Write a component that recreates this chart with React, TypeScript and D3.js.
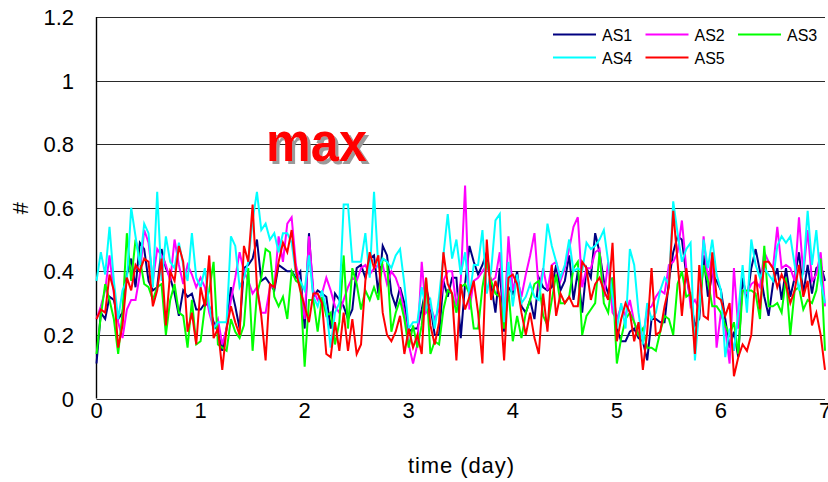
import React from "react";
import * as d3 from "d3";

// Hourly samples over one week (index = hour, 0..168)
const AS1 = [
  0.11, 0.27, 0.25, 0.32, 0.31, 0.25, 0.27, 0.39, 0.44, 0.35, 0.49, 0.47, 0.37, 0.34, 0.35, 0.47, 0.41, 0.38, 0.33, 0.26, 0.34, 0.32, 0.33, 0.28, 0.28, 0.30, 0.29, 0.24, 0.21, 0.15, 0.22, 0.35, 0.29, 0.22,
  0.41, 0.42, 0.44, 0.50, 0.37, 0.38, 0.36, 0.34, 0.42, 0.41, 0.40, 0.40, 0.38, 0.40, 0.22, 0.52, 0.32, 0.34, 0.33, 0.32, 0.22, 0.33, 0.31, 0.29, 0.25, 0.28, 0.41, 0.42, 0.38, 0.44, 0.45, 0.33, 0.48, 0.45,
  0.33, 0.29, 0.35, 0.30, 0.21, 0.22, 0.22, 0.28, 0.35, 0.29, 0.20, 0.20, 0.37, 0.32, 0.38, 0.38, 0.19, 0.36, 0.48, 0.43, 0.39, 0.42, 0.46, 0.36, 0.27, 0.41, 0.21, 0.35, 0.33, 0.40, 0.29, 0.27, 0.31,
  0.25, 0.38, 0.35, 0.34, 0.35, 0.42, 0.34, 0.37, 0.45, 0.31, 0.40, 0.27, 0.41, 0.38, 0.52, 0.46, 0.37, 0.33, 0.38, 0.22, 0.18, 0.18, 0.21, 0.22, 0.19, 0.18, 0.12, 0.25, 0.25, 0.24, 0.24, 0.37, 0.46, 0.51,
  0.50, 0.39, 0.31, 0.23, 0.25, 0.45, 0.32, 0.39, 0.37, 0.34, 0.25, 0.16, 0.21, 0.13, 0.38, 0.31, 0.41, 0.47, 0.40, 0.32, 0.26, 0.36, 0.41, 0.31, 0.41, 0.32, 0.38, 0.46, 0.33, 0.42, 0.33, 0.41, 0.42, 0.37,
];

const AS2 = [
  0.25, 0.29, 0.34, 0.45, 0.33, 0.24, 0.19, 0.28, 0.31, 0.31, 0.39, 0.53, 0.49, 0.37, 0.47, 0.45, 0.42, 0.37, 0.50, 0.42, 0.36, 0.42, 0.39, 0.35, 0.38, 0.35, 0.27, 0.22, 0.25, 0.17, 0.22, 0.31, 0.38, 0.46,
  0.40, 0.37, 0.33, 0.35, 0.27, 0.27, 0.35, 0.35, 0.51, 0.43, 0.55, 0.57, 0.42, 0.36, 0.25, 0.51, 0.34, 0.31, 0.33, 0.38, 0.34, 0.29, 0.27, 0.31, 0.35, 0.38, 0.37, 0.41, 0.42, 0.39, 0.41, 0.42, 0.42, 0.36,
  0.40, 0.38, 0.34, 0.27, 0.17, 0.11, 0.17, 0.43, 0.27, 0.29, 0.25, 0.28, 0.37, 0.40, 0.40, 0.29, 0.37, 0.67, 0.28, 0.37, 0.38, 0.40, 0.42, 0.37, 0.38, 0.46, 0.24, 0.51, 0.34, 0.38, 0.32, 0.39, 0.45,
  0.52, 0.34, 0.41, 0.34, 0.42, 0.43, 0.37, 0.41, 0.47, 0.54, 0.57, 0.35, 0.41, 0.41, 0.46, 0.47, 0.32, 0.43, 0.27, 0.25, 0.29, 0.26, 0.31, 0.24, 0.20, 0.19, 0.28, 0.29, 0.32, 0.34, 0.33, 0.42, 0.43, 0.46,
  0.56, 0.41, 0.29, 0.31, 0.28, 0.51, 0.37, 0.45, 0.16, 0.27, 0.22, 0.11, 0.41, 0.22, 0.34, 0.33, 0.36, 0.37, 0.35, 0.46, 0.43, 0.41, 0.54, 0.41, 0.42, 0.41, 0.37, 0.57, 0.39, 0.53, 0.37, 0.39, 0.46, 0.29,
];

const AS3 = [
  0.14, 0.26, 0.36, 0.31, 0.25, 0.14, 0.27, 0.52, 0.37, 0.50, 0.44, 0.36, 0.35, 0.31, 0.35, 0.36, 0.20, 0.31, 0.36, 0.27, 0.26, 0.16, 0.31, 0.17, 0.18, 0.29, 0.34, 0.43, 0.17, 0.16, 0.15, 0.25, 0.21, 0.19,
  0.23, 0.41, 0.15, 0.33, 0.38, 0.47, 0.46, 0.32, 0.29, 0.32, 0.25, 0.40, 0.37, 0.36, 0.10, 0.31, 0.31, 0.21, 0.32, 0.26, 0.27, 0.17, 0.24, 0.45, 0.22, 0.41, 0.36, 0.28, 0.34, 0.31, 0.35, 0.31, 0.44, 0.43,
  0.21, 0.27, 0.31, 0.25, 0.16, 0.23, 0.16, 0.23, 0.38, 0.14, 0.18, 0.17, 0.28, 0.34, 0.33, 0.27, 0.35, 0.36, 0.33, 0.22, 0.22, 0.35, 0.43, 0.37, 0.33, 0.32, 0.22, 0.34, 0.18, 0.26, 0.19, 0.27, 0.31,
  0.36, 0.37, 0.26, 0.23, 0.31, 0.39, 0.30, 0.30, 0.32, 0.41, 0.43, 0.20, 0.26, 0.28, 0.30, 0.46, 0.30, 0.27, 0.38, 0.11, 0.19, 0.25, 0.27, 0.24, 0.20, 0.22, 0.16, 0.16, 0.15, 0.21, 0.26, 0.25, 0.20, 0.36,
  0.40, 0.32, 0.33, 0.17, 0.28, 0.42, 0.37, 0.29, 0.29, 0.27, 0.23, 0.20, 0.24, 0.14, 0.34, 0.34, 0.34, 0.33, 0.25, 0.48, 0.29, 0.29, 0.30, 0.27, 0.38, 0.20, 0.34, 0.35, 0.28, 0.31, 0.30, 0.34, 0.44, 0.15,
];

const AS4 = [
  0.37, 0.46, 0.39, 0.54, 0.37, 0.25, 0.34, 0.37, 0.60, 0.51, 0.42, 0.55, 0.52, 0.35, 0.65, 0.37, 0.51, 0.43, 0.41, 0.49, 0.42, 0.37, 0.52, 0.38, 0.35, 0.41, 0.29, 0.22, 0.24, 0.24, 0.24, 0.51, 0.48, 0.35,
  0.38, 0.43, 0.56, 0.65, 0.53, 0.55, 0.50, 0.52, 0.46, 0.52, 0.52, 0.49, 0.39, 0.37, 0.34, 0.45, 0.32, 0.29, 0.34, 0.28, 0.16, 0.27, 0.30, 0.61, 0.61, 0.43, 0.43, 0.43, 0.52, 0.38, 0.65, 0.41, 0.44, 0.43,
  0.41, 0.45, 0.47, 0.36, 0.22, 0.24, 0.24, 0.35, 0.28, 0.31, 0.22, 0.32, 0.45, 0.58, 0.44, 0.50, 0.39, 0.46, 0.32, 0.42, 0.42, 0.53, 0.33, 0.40, 0.56, 0.58, 0.24, 0.43, 0.29, 0.39, 0.30, 0.32, 0.36,
  0.32, 0.31, 0.40, 0.55, 0.48, 0.43, 0.38, 0.42, 0.50, 0.40, 0.41, 0.40, 0.49, 0.47, 0.48, 0.50, 0.53, 0.43, 0.32, 0.22, 0.30, 0.22, 0.47, 0.42, 0.27, 0.17, 0.30, 0.25, 0.27, 0.34, 0.38, 0.36, 0.62, 0.52,
  0.43, 0.47, 0.49, 0.12, 0.28, 0.50, 0.41, 0.50, 0.39, 0.34, 0.13, 0.22, 0.15, 0.27, 0.42, 0.27, 0.50, 0.42, 0.38, 0.41, 0.39, 0.37, 0.48, 0.51, 0.49, 0.51, 0.42, 0.34, 0.40, 0.59, 0.42, 0.53, 0.37, 0.30,
];

const AS5 = [
  0.25, 0.28, 0.27, 0.39, 0.34, 0.16, 0.23, 0.38, 0.34, 0.42, 0.40, 0.44, 0.43, 0.29, 0.34, 0.44, 0.23, 0.40, 0.37, 0.48, 0.43, 0.21, 0.27, 0.17, 0.35, 0.29, 0.45, 0.19, 0.22, 0.09, 0.22, 0.29, 0.24, 0.20,
  0.48, 0.43, 0.61, 0.35, 0.26, 0.12, 0.36, 0.35, 0.43, 0.49, 0.46, 0.53, 0.40, 0.34, 0.29, 0.24, 0.33, 0.33, 0.30, 0.14, 0.13, 0.24, 0.15, 0.27, 0.15, 0.25, 0.14, 0.17, 0.37, 0.46, 0.41, 0.45, 0.27, 0.20,
  0.18, 0.21, 0.26, 0.14, 0.22, 0.16, 0.20, 0.14, 0.38, 0.23, 0.17, 0.24, 0.46, 0.36, 0.33, 0.12, 0.36, 0.28, 0.32, 0.37, 0.27, 0.11, 0.50, 0.31, 0.37, 0.32, 0.12, 0.38, 0.39, 0.36, 0.27, 0.20, 0.27,
  0.19, 0.14, 0.33, 0.21, 0.42, 0.26, 0.33, 0.30, 0.32, 0.29, 0.29, 0.43, 0.41, 0.31, 0.36, 0.38, 0.34, 0.31, 0.49, 0.18, 0.25, 0.30, 0.27, 0.18, 0.24, 0.09, 0.21, 0.41, 0.20, 0.21, 0.29, 0.35, 0.59, 0.43,
  0.26, 0.41, 0.32, 0.14, 0.42, 0.26, 0.25, 0.46, 0.32, 0.31, 0.26, 0.30, 0.07, 0.13, 0.17, 0.15, 0.20, 0.39, 0.28, 0.43, 0.43, 0.41, 0.35, 0.39, 0.36, 0.30, 0.34, 0.42, 0.32, 0.37, 0.23, 0.27, 0.20, 0.09,
];

const seriesNames = ["AS1", "AS2", "AS3", "AS4", "AS5"];
const seriesValues = [AS1, AS2, AS3, AS4, AS5];
const seriesColors = ["#000080", "#ff00ff", "#00ff00", "#00ffff", "#ff0000"];

const xTicks = [0, 1, 2, 3, 4, 5, 6, 7];
const yTicks = [0, 0.2, 0.4, 0.6, 0.8, 1, 1.2];
const HOURS_PER_DAY = 24;

const W = 828;
const H = 482;
const FONT = "'Liberation Sans', Arial, Helvetica, sans-serif";

export default function App() {
  const x = d3.scaleLinear().domain([0, 7]).range([96.5, 825]);
  const y = d3.scaleLinear().domain([0, 1.2]).range([398.5, 17]);

  const line = d3
    .line<number>()
    .x((_, i) => x(i / HOURS_PER_DAY))
    .y((v) => y(v));

  const legendRows = [
    [0, 1, 2],
    [3, 4],
  ];

  return (
    <svg
      width={W}
      height={H}
      style={{ position: "fixed", left: 0, top: 0, background: "#fff" }}
      fontFamily={FONT}
    >
      <defs>
        <filter id="maxShadow" x="-10%" y="-10%" width="130%" height="140%">
          <feDropShadow dx={3} dy={3} stdDeviation={0.4} floodColor="#9a9a9a" floodOpacity={1} />
        </filter>
      </defs>
      <rect x={0} y={0} width={W} height={H} fill="#fff" />

      {/* horizontal grid */}
      {yTicks.map((t) => (
        <line
          key={t}
          x1={x(0)}
          x2={x(7)}
          y1={Math.round(y(t)) + 0.5}
          y2={Math.round(y(t)) + 0.5}
          stroke="#2a2a2a"
          strokeWidth={1.2}
        />
      ))}
      {/* left axis */}
      <line x1={96.5} x2={96.5} y1={y(1.2)} y2={y(0)} stroke="#000" strokeWidth={1.4} />

      {/* y tick labels */}
      {yTicks.map((t) => (
        <text key={t} x={74} y={y(t) + 8} textAnchor="end" fontSize={22} fill="#000">
          {d3.format("~g")(t)}
        </text>
      ))}
      {/* x tick labels */}
      {xTicks.map((t) => (
        <text key={t} x={x(t)} y={418} textAnchor="middle" fontSize={22} fill="#000">
          {t}
        </text>
      ))}
      <text x={461} y={473} textAnchor="middle" fontSize={22} fill="#000" textLength={106}>
        time (day)
      </text>
      <text
        transform="translate(28,208) rotate(-90)"
        textAnchor="middle"
        fontSize={22}
        fill="#000"
      >
        #
      </text>

      {/* series */}
      {seriesValues.map((vals, k) => (
        <path
          key={seriesNames[k]}
          d={line(vals) ?? ""}
          fill="none"
          stroke={seriesColors[k]}
          strokeWidth={2}
          strokeLinejoin="miter"
          strokeMiterlimit={4}
        />
      ))}

      {/* annotation */}
      <text
        x={266}
        y={161}
        fill="#ff0000"
        fontWeight="bold"
        fontSize={56}
        textLength={101}
        lengthAdjust="spacingAndGlyphs"
        filter="url(#maxShadow)"
      >
        max
      </text>

      {/* legend */}
      {legendRows.map((row, r) =>
        row.map((k, c) => {
          const lx = 553 + c * 92.5;
          const ly = 34.5 + r * 23;
          return (
            <g key={seriesNames[k]}>
              <line x1={lx} x2={lx + 43} y1={ly} y2={ly} stroke={seriesColors[k]} strokeWidth={2} />
              <text x={lx + 49} y={ly + 6} fontSize={16} fill="#000">
                {seriesNames[k]}
              </text>
            </g>
          );
        })
      )}
    </svg>
  );
}
